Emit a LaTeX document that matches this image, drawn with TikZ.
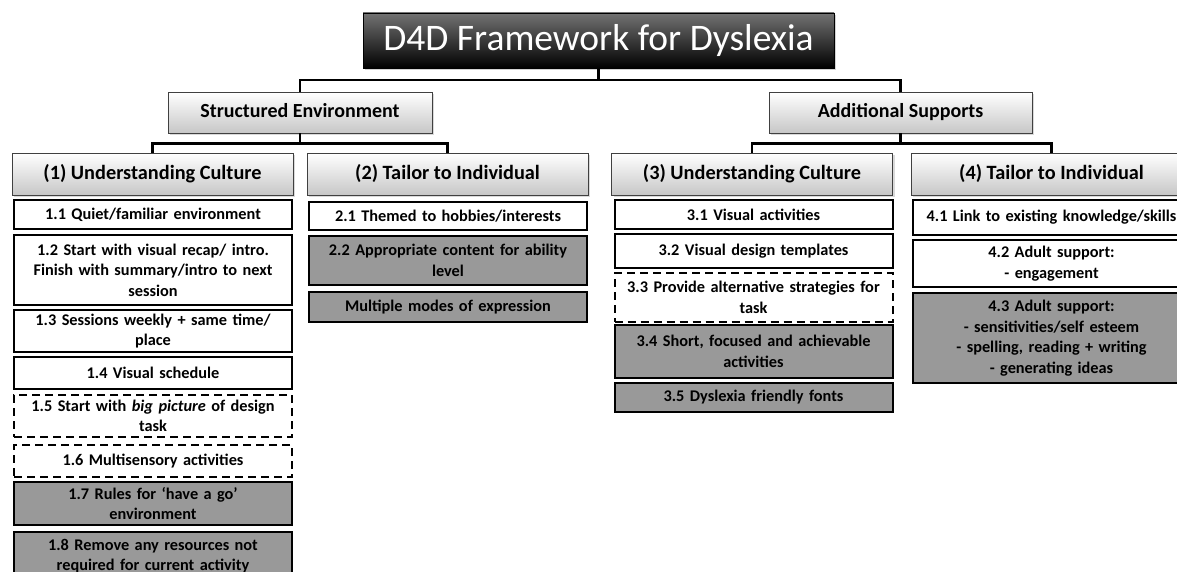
\documentclass[tikz,border=0pt]{standalone}
\usepackage{fontspec}
\setmainfont{Carlito}
\usetikzlibrary{shadows}

\begin{document}
\begin{tikzpicture}[
    x=1pt, y=-1pt,
    titlebox/.style={draw=black, top color=black!55, bottom color=black,
      text=white, minimum width=471pt, minimum height=55pt,
      text height=26pt, text depth=6pt,
      font=\fontsize{37.5}{40}\selectfont,
      drop shadow={opacity=0.35, shadow xshift=2pt, shadow yshift=-2pt}},
    groupbox/.style={draw=black!75, line width=0.8pt, top color=white,
      bottom color=black!22, minimum height=41pt,
      text height=14pt, text depth=3pt,
      font=\fontsize{20}{22}\selectfont\bfseries,
      drop shadow={opacity=0.3, shadow xshift=2pt, shadow yshift=-2pt}},
    headbox/.style={groupbox, minimum width=281pt, minimum height=42pt,
      font=\fontsize{20.3}{22}\selectfont\bfseries},
    itembox/.style={draw=black, line width=2pt, fill=white, align=center,
      text width=266pt, inner xsep=6pt, inner ysep=1pt,
      font=\fontsize{16.3}{20.5}\selectfont\bfseries},
    dashbox/.style={itembox, dash pattern=on 8pt off 5pt},
    greybox/.style={itembox, fill=black!40},
    link/.style={draw=black, line width=2.4pt}
  ]
  \useasboundingbox (0,0) rectangle (1177,572);

  %% ---- Top level ----
  \node[titlebox] (title) at (598.5,40.5) {D4D Framework for Dyslexia};
  \node[groupbox, minimum width=264pt] (struct) at (300,112.5) {Structured Environment};
  \node[groupbox, minimum width=263pt] (extra) at (900.5,112.5) {Additional Supports};

  %% ---- Column headers ----
  \node[headbox] (h1) at (152.5,174) {(1) Understanding Culture};
  \node[headbox] (h2) at (447.5,174) {(2) Tailor to Individual};
  \node[headbox] (h3) at (752,174) {(3) Understanding Culture};
  \node[headbox] (h4) at (1051.5,174) {(4) Tailor to Individual};

  % connectors
  \draw[link] (title.south) -- ++(0,12) -| (struct.north);
  \draw[link] (title.south) -- ++(0,12) -| (extra.north);
  \draw[link] (struct.south) -- ++(0,10) -| (h1.north);
  \draw[link] (struct.south) -- ++(0,10) -| (h2.north);
  \draw[link] (extra.south) -- ++(0,10) -| (h3.north);
  \draw[link] (extra.south) -- ++(0,10) -| (h4.north);

  %% ---- Column 1 ----
  \node[itembox, minimum height=29pt] (c11) at (153,214.5) {1.1 Quiet/familiar environment};
  \node[itembox, minimum height=70pt] (c12) at (153,270) {1.2 Start with visual recap/ intro.\\ Finish with summary/intro to next\\ session};
  \node[itembox, minimum height=42pt] (c13) at (153,331) {1.3 Sessions weekly + same time/\\ place};
  \node[itembox, minimum height=32pt] (c14) at (153,373) {1.4 Visual schedule};
  \node[dashbox, minimum height=42pt] (c15) at (153,416) {1.5 Start with \textit{big picture} of design\\ task};
  \node[dashbox, minimum height=32pt] (c16) at (153,461) {1.6 Multisensory activities};
  \node[greybox, minimum height=43pt] (c17) at (153,503.5) {1.7 Rules for ‘have a go’\\ environment};
  \node[greybox, minimum height=48pt] (c18) at (153,556) {1.8 Remove any resources not\\ required for current activity};

  %% ---- Column 2 ----
  \node[itembox, minimum height=28pt] (c21) at (448,216) {2.1 Themed to hobbies/interests};
  \node[greybox, minimum height=49pt] (c22) at (448,260.5) {2.2 Appropriate content for ability\\ level};
  \node[greybox, minimum height=30pt] (c23) at (448,307) {Multiple modes of expression};

  %% ---- Column 3 ----
  \node[itembox, minimum height=29pt] (c31) at (753.5,214.5) {3.1 Visual activities};
  \node[itembox, minimum height=34pt] (c32) at (753.5,251) {3.2 Visual design templates};
  \node[dashbox, minimum height=49pt] (c33) at (753.5,297.5) {3.3 Provide alternative strategies for\\ task};
  \node[greybox, minimum height=53pt] (c34) at (753.5,351.5) {3.4 Short, focused and achievable\\ activities};
  \node[greybox, minimum height=29pt] (c35) at (753.5,397.5) {3.5 Dyslexia friendly fonts};

  %% ---- Column 4 ----
  \node[itembox, minimum height=35pt] (c41) at (1051.5,217.5) {\makebox[266pt]{4.1 Link to existing knowledge/skills}};
  \node[itembox, minimum height=47pt] (c42) at (1051.5,263.5) {4.2 Adult support:\\ - engagement};
  \node[greybox, minimum height=90pt] (c43) at (1051.5,338) {4.3 Adult support:\\ - sensitivities/self esteem\\ - spelling, reading + writing\\ - generating ideas};

\end{tikzpicture}
\end{document}
